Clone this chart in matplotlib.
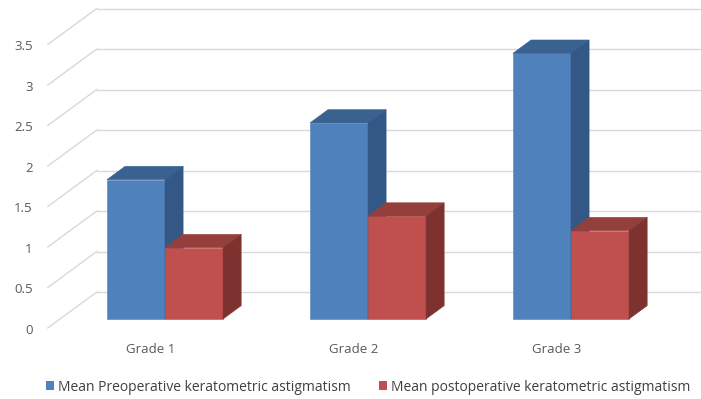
import matplotlib
matplotlib.use("Agg")
import matplotlib.pyplot as plt
from matplotlib.patches import Polygon, Patch

categories = ["Grade 1", "Grade 2", "Grade 3"]
preop = [1.72, 2.42, 3.28]
postop = [0.88, 1.27, 1.09]
series_names = ["Mean Preoperative keratometric astigmatism",
                "Mean postoperative keratometric astigmatism"]
yticks = [0, 0.5, 1, 1.5, 2, 2.5, 3, 3.5]

# colours: front, top, side
BLUE = ("#4f81bd", "#3a6291", "#335886")
RED = ("#c0504d", "#943f3c", "#7e3230")

# geometry (x in category units, y in value units)
DX, DY = 0.241, 0.444        # full depth offset of the floor
BAR_W = 0.286                # width of a single bar
BAR_D = 0.37                 # bar depth as fraction of full depth
FRONT = -0.25                # front floor relative to bar front plane
BACK = 0.75                  # back wall relative to bar front plane
WALL_X = -0.517              # left edge of the floor at bar front plane


def bar3d(ax, x0, h, cols):
    ox, oy = DX * BAR_D, DY * BAR_D
    front = [(x0, 0), (x0 + BAR_W, 0), (x0 + BAR_W, h), (x0, h)]
    top = [(x0, h), (x0 + BAR_W, h), (x0 + BAR_W + ox, h + oy), (x0 + ox, h + oy)]
    side = [(x0 + BAR_W, 0), (x0 + BAR_W + ox, oy), (x0 + BAR_W + ox, h + oy),
            (x0 + BAR_W, h)]
    for pts, c in [(front, cols[0]), (top, cols[1]), (side, cols[2])]:
        ax.add_patch(Polygon(pts, closed=True, facecolor=c, edgecolor=c,
                             linewidth=0.4, zorder=3))


fig = plt.figure(figsize=(7.01, 3.99), dpi=100)
ax = fig.add_axes([0, 0, 1, 1])
ax.set_xlim(-0.8128, 2.6404)
ax.set_ylim(-0.988, 3.938)
ax.axis("off")

grid_c = "#d9d9d9"
for v in yticks:
    fx, fy = WALL_X + FRONT * DX, v + FRONT * DY
    bx, by = WALL_X + BACK * DX, v + BACK * DY
    ax.plot([fx, bx], [fy, by], color=grid_c, lw=1.0, zorder=1)
    ax.plot([bx, 3.0], [by, by], color=grid_c, lw=1.0, zorder=1)
    ax.text(fx - 0.075, fy - 0.03, f"{v:g}", ha="right", va="center",
            fontsize=9.5, color="#595959", family="Open Sans")

for i, cat in enumerate(categories):
    bar3d(ax, i - BAR_W, preop[i], BLUE)
    bar3d(ax, i, postop[i], RED)
    ax.text(i + FRONT * DX - 0.01, -0.38, cat, ha="center", va="center",
            fontsize=9.5, color="#595959", family="Open Sans")

handles = [Patch(facecolor=BLUE[0], edgecolor="none"),
           Patch(facecolor=RED[0], edgecolor="none")]
fig.legend(handles, series_names, loc="center", bbox_to_anchor=(0.525, 0.03),
           ncol=2, frameon=False, handlelength=0.6, handleheight=0.6,
           handletextpad=0.3, columnspacing=2.0,
           prop={"family": "Open Sans", "size": 10}, labelcolor="#404040")

fig.savefig("out.png", dpi=100)
